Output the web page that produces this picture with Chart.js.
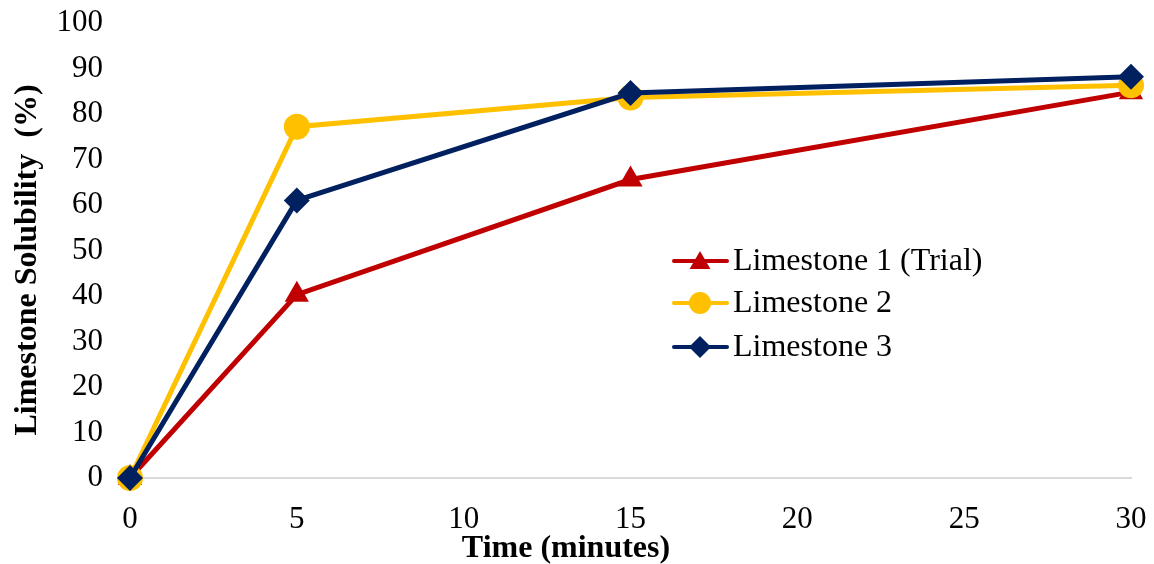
<!DOCTYPE html>
<html>
<head>
<meta charset="utf-8">
<script src="https://cdn.jsdelivr.net/npm/chart.js@4.4.0/dist/chart.umd.min.js"></script>
<style>
  html, body { margin: 0; padding: 0; background: #fff; }
  #wrap { width: 1154px; height: 564px; position: relative; }
</style>
</head>
<body>
<div id="wrap"><canvas id="solubilityChart"></canvas></div>
<script>
// data
const timeMinutes = [0, 5, 15, 30];
const limestone1 = [0, 40.3, 65.6, 84.8];
const limestone2 = [0, 77.2, 83.6, 86.3];
const limestone3 = [0, 61.0, 84.6, 88.2];
const seriesNames = ["Limestone 1 (Trial)", "Limestone 2", "Limestone 3"];
const xTicks = [0, 5, 10, 15, 20, 25, 30];
const yTicks = [0, 10, 20, 30, 40, 50, 60, 70, 80, 90, 100];
const xTitle = "Time (minutes)";
const yTitle = "Limestone Solubility  (%)";

const FONT = "'Liberation Serif', 'Times New Roman', serif";

function toPoints(vals) {
    return timeMinutes.map(function (t, i) { return { x: t, y: vals[i] }; });
}

// legend inside the plot + axis titles, placed like the original
const innerLegend = {
    id: "innerLegend",
    afterDraw(chart) {
        const ctx = chart.ctx;
        const rows = [261, 303, 347];
        ctx.save();
        chart.data.datasets.forEach(function (ds, i) {
            const y = rows[i];
            ctx.strokeStyle = ds.borderColor;
            ctx.lineWidth = 4;
            ctx.lineCap = "round";
            ctx.beginPath();
            ctx.moveTo(674, y);
            ctx.lineTo(727, y);
            ctx.stroke();
            ctx.fillStyle = ds.borderColor;
            Chart.helpers.drawPoint(ctx, {
                pointStyle: ds.pointStyle,
                radius: ds.legendRadius,
                rotation: 0,
                borderWidth: 0
            }, 700, y + (ds.pointStyle === "triangle" ? 2 : 0));
            ctx.fillStyle = "#000";
            ctx.font = "32px " + FONT;
            ctx.textBaseline = "middle";
            ctx.textAlign = "left";
            ctx.fillText(ds.label, 733, y + 1);
        });
        ctx.font = "bold 32px " + FONT;
        ctx.textAlign = "center";
        ctx.textBaseline = "middle";
        ctx.fillText(xTitle, 566, 549);
        ctx.translate(28, 260);
        ctx.rotate(-Math.PI / 2);
        ctx.fillText(yTitle, 0, 0);
        ctx.restore();
    }
};

const ctx = document.getElementById("solubilityChart").getContext("2d");
new Chart(ctx, {
    type: "line",
    data: {
        datasets: [
            {
                label: seriesNames[0],
                data: toPoints(limestone1),
                borderColor: "#C00000",
                backgroundColor: "#C00000",
                borderWidth: 5,
                pointStyle: "triangle",
                pointRadius: 14,
                legendRadius: 12,
                pointBorderWidth: 0,
                order: 3,
                clip: false
            },
            {
                label: seriesNames[1],
                data: toPoints(limestone2),
                borderColor: "#FFC000",
                backgroundColor: "#FFC000",
                borderWidth: 5,
                pointStyle: "circle",
                pointRadius: 13,
                legendRadius: 11,
                pointBorderWidth: 0,
                order: 2,
                clip: false
            },
            {
                label: seriesNames[2],
                data: toPoints(limestone3),
                borderColor: "#002060",
                backgroundColor: "#002060",
                borderWidth: 5,
                pointStyle: "rectRot",
                pointRadius: 13,
                legendRadius: 11,
                pointBorderWidth: 0,
                order: 1,
                clip: false
            }
        ]
    },
    options: {
        responsive: true,
        maintainAspectRatio: false,
        animation: false,
        layout: { padding: { top: 23, right: 23, left: 0, bottom: 0 } },
        plugins: {
            legend: { display: false },
            tooltip: { enabled: false }
        },
        scales: {
            x: {
                type: "linear",
                min: 0,
                max: 30,
                afterBuildTicks: function (scale) {
                    scale.ticks = xTicks.map(function (v) { return { value: v }; });
                },
                afterFit: function (scale) {
                    scale.height = 86;
                    scale.paddingLeft = 0;
                    scale.paddingRight = 0;
                },
                grid: { display: false, drawTicks: false },
                border: { display: true, color: "#D9D9D9", width: 2 },
                ticks: { color: "#000", padding: 23, font: { family: FONT, size: 31 } }
            },
            y: {
                min: 0,
                max: 100,
                afterBuildTicks: function (scale) {
                    scale.ticks = yTicks.map(function (v) { return { value: v }; });
                },
                afterFit: function (scale) {
                    scale.width = 130;
                    scale.paddingTop = 0;
                    scale.paddingBottom = 0;
                },
                grid: { display: false, drawTicks: false },
                border: { display: false },
                ticks: { color: "#000", padding: 27, font: { family: FONT, size: 31 } }
            }
        }
    },
    plugins: [innerLegend]
});
</script>
</body>
</html>
